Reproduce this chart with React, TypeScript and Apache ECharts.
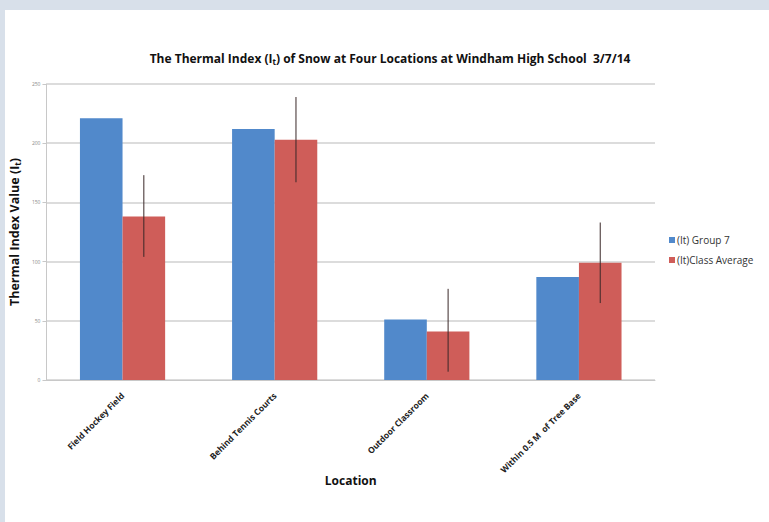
import React, { useEffect, useRef } from "react";
import * as echarts from "echarts";

const categories = ["Field Hockey Field", "Behind Tennis Courts", "Outdoor Classroom", "Within 0.5 M  of Tree Base"];
const group7 = [221, 212, 51, 87];
const classAverage = [138, 203, 41, 99];
const classErrLow = [104, 167, 7, 65];
const classErrHigh = [173, 239, 77, 133];
const yTicks = [0, 50, 100, 150, 200, 250];

export default function App() {
  const ref = useRef<HTMLDivElement>(null);
  useEffect(() => {
    if (!ref.current) return;
    const chart = echarts.init(ref.current, null, { renderer: "svg" });
    const font = "'Open Sans', sans-serif";
    const errData = categories.map((c, i) => [i, classErrLow[i], classErrHigh[i]]);
    chart.setOption({
      animation: false,
      backgroundColor: "#d8e0ea",
      graphic: [
        { type: "rect", z: -10, shape: { x: 5, y: 10, width: 770, height: 520 }, style: { fill: "#ffffff" } },
      ],
      title: {
        text: "{n|The Thermal Index (I}{s|t}{n|) of Snow at Four Locations at Windham High School  3/7/14}",
        left: 385,
        textAlign: "center",
        top: 47,
        textStyle: {
          rich: {
            n: { fontFamily: font, fontWeight: "bold", fontSize: 12, color: "#111" },
            s: { fontFamily: font, fontWeight: "bold", fontSize: 8, color: "#111", padding: [5, 0, 0, 0] },
          },
        },
      },
      legend: {
        orient: "vertical",
        left: 664,
        top: 230,
        itemWidth: 6,
        itemHeight: 6,
        itemGap: 10,
        icon: "rect",
        textStyle: { fontFamily: font, fontSize: 10, color: "#333", padding: [0, 0, 0, -3] },
        data: ["(It) Group 7", "(It)Class Average"],
      },
      grid: { left: 43, top: 84, right: 114, bottom: 142 },
      xAxis: {
        type: "category",
        data: categories,
        name: "Location",
        nameLocation: "middle",
        nameGap: 94,
        nameMoveOverlap: false,
        nameTextStyle: { fontFamily: font, fontWeight: "bold", fontSize: 12, color: "#111" },
        axisLine: { lineStyle: { color: "#c8c8c8" } },
        axisTick: { show: false },
        axisLabel: {
          rotate: 45,
          fontFamily: font,
          fontWeight: "bold",
          fontSize: 8.5,
          color: "#222",
          margin: 14,
        },
      },
      yAxis: {
        type: "value",
        min: 0,
        max: 250,
        interval: 50,
        name: "{n|Thermal Index Value (I}{s|t}{n|)}",
        nameLocation: "middle",
        nameGap: 22,
        nameTextStyle: {
          rich: {
            n: { fontFamily: font, fontWeight: "bold", fontSize: 12.5, color: "#111" },
            s: { fontFamily: font, fontWeight: "bold", fontSize: 8, color: "#111", padding: [5, 0, 0, 0] },
          },
        },
        axisLine: { show: true, lineStyle: { color: "#c8c8c8" } },
        axisTick: { show: true, length: 4, lineStyle: { color: "#c8c8c8" } },
        axisLabel: {
          fontFamily: font,
          fontSize: 5,
          color: "#888",
          margin: 6,
          formatter: (v: number) => (yTicks.includes(v) ? String(v) : ""),
        },
        splitLine: { lineStyle: { color: "#d0d0d0", width: 1.5 } },
      },
      series: [
        {
          name: "(It) Group 7",
          type: "bar",
          data: group7,
          barWidth: "28%",
          barGap: "0%",
          itemStyle: { color: "#5189cb" },
        },
        {
          name: "(It)Class Average",
          type: "bar",
          data: classAverage,
          barWidth: "28%",
          itemStyle: { color: "#cf5d59" },
        },
        {
          type: "custom",
          name: "error",
          data: errData,
          z: 10,
          renderItem: (params: any, api: any) => {
            const idx = api.value(0);
            const lo = api.coord([idx, api.value(1)]);
            const hi = api.coord([idx, api.value(2)]);
            const band = api.size([1, 0])[0];
            const x = lo[0] + band * 0.14;
            return {
              type: "line",
              shape: { x1: x, y1: lo[1], x2: x, y2: hi[1] },
              style: { stroke: "#3a2828", lineWidth: 1 },
            };
          },
        },
      ],
    });
    return () => chart.dispose();
  }, []);
  return (
    <div
      ref={ref}
      style={{ position: "fixed", left: 0, top: 0, width: 769, height: 522 }}
    />
  );
}
